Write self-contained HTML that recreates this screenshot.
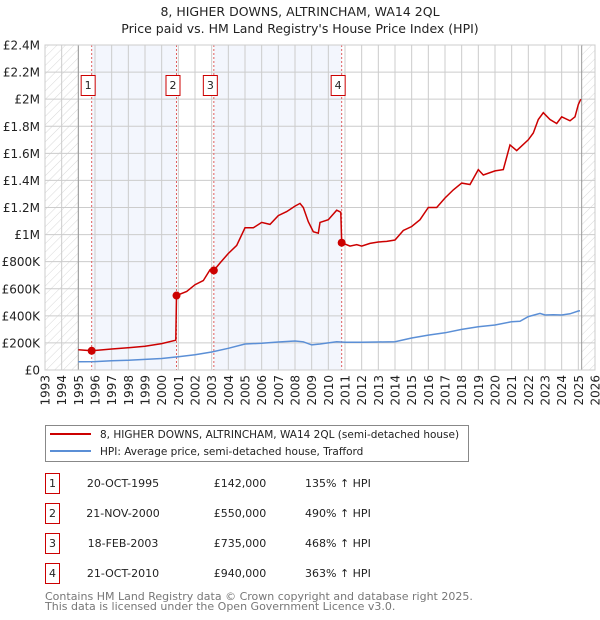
<!DOCTYPE html>
<html><head><meta charset="utf-8"><style>
body{margin:0;background:#fff;font-family:"DejaVu Sans","Liberation Sans",sans-serif;}
#wrap{position:relative;width:600px;height:620px;overflow:hidden}
svg text{font-family:"DejaVu Sans","Liberation Sans",sans-serif}
</style></head><body><div id="wrap">
<svg id="chart" width="600" height="620"></svg>
</div>
<script>
const yTicks=[0,200000,400000,600000,800000,1000000,1200000,1400000,1600000,1800000,2000000,2200000,2400000];
const yTickLabels=["£0","£200K","£400K","£600K","£800K","£1M","£1.2M","£1.4M","£1.6M","£1.8M","£2M","£2.2M","£2.4M"];
const xYears=[1993,1994,1995,1996,1997,1998,1999,2000,2001,2002,2003,2004,2005,2006,2007,2008,2009,2010,2011,2012,2013,2014,2015,2016,2017,2018,2019,2020,2021,2022,2023,2024,2025,2026];
const saleDates=[1995.8,2000.89,2003.13,2010.8];
const salePrices=[142000,550000,735000,940000];
const saleLabels=["1","2","3","4"];
const hpiX=[1995,1996,1997,1998,1999,2000,2001,2002,2003,2004,2005,2006,2007,2008,2008.5,2009,2009.5,2010,2010.5,2011,2012,2013,2014,2015,2016,2017,2018,2019,2020,2021,2021.5,2022,2022.7,2023,2023.5,2024,2024.5,2025,2025.1];
const hpiY=[61000,62000,68000,72000,78000,85000,98000,112000,133000,160000,192000,198000,207000,214000,208000,185000,192000,200000,209000,205000,205000,207000,209000,236000,258000,275000,300000,320000,332000,357000,360000,394000,418000,406000,408000,406000,415000,436000,438000];
const redX=[1995,1995.8,1996.5,1997,1998,1999,2000,2000.85,2000.89,2001.5,2002,2002.5,2002.9,2003.13,2003.5,2004,2004.5,2005,2005.5,2006,2006.5,2007,2007.5,2008,2008.3,2008.5,2008.8,2009.1,2009.4,2009.5,2010,2010.5,2010.75,2010.8,2011.3,2011.7,2012,2012.5,2013,2013.5,2014,2014.5,2015,2015.5,2016,2016.5,2017,2017.5,2018,2018.5,2019,2019.3,2020,2020.5,2020.9,2021.3,2022,2022.3,2022.6,2022.9,2023.3,2023.7,2024,2024.5,2024.8,2025,2025.15];
const redY=[150000,142000,150000,155000,165000,175000,195000,220000,550000,580000,630000,660000,740000,735000,790000,860000,920000,1050000,1050000,1090000,1075000,1140000,1170000,1210000,1230000,1200000,1095000,1021000,1010000,1090000,1110000,1180000,1165000,940000,915000,925000,915000,935000,945000,950000,960000,1030000,1060000,1110000,1200000,1200000,1270000,1330000,1380000,1370000,1480000,1440000,1470000,1480000,1662000,1620000,1700000,1750000,1850000,1900000,1850000,1820000,1870000,1840000,1870000,1960000,2000000];

const X0=45,X1=595,Y0=370,Y1=45;
const xs=y=>X0+(y-1993)/(2026-1993)*(X1-X0);
const ys=v=>Y0-v/2400000*(Y0-Y1);
const svg=document.getElementById('chart');
const NS='http://www.w3.org/2000/svg';
function mk(tag,attrs,parent){const e=document.createElementNS(NS,tag);for(const k in attrs)e.setAttribute(k,attrs[k]);(parent||svg).appendChild(e);return e;}
const defs=mk('defs',{});
const pat=mk('pattern',{id:'hatch',width:6,height:6,patternUnits:'userSpaceOnUse',patternTransform:'rotate(45)'},defs);
mk('line',{x1:0,y1:0,x2:0,y2:6,stroke:'#d8d8d8','stroke-width':1},pat);
let t=mk('text',{x:300,y:16,'text-anchor':'middle','font-size':12.5,fill:'#222'});t.textContent="8, HIGHER DOWNS, ALTRINCHAM, WA14 2QL";

t=mk('text',{x:300,y:33,'text-anchor':'middle','font-size':12.5,fill:'#222'});t.textContent="Price paid vs. HM Land Registry's House Price Index (HPI)";

let b=mk('rect',{x:xs(saleDates[0]),y:Y1,width:xs(saleDates[1])-xs(saleDates[0]),height:Y0-Y1,fill:'#f3f6fd'});

b=mk('rect',{x:xs(saleDates[2]),y:Y1,width:xs(saleDates[3])-xs(saleDates[2]),height:Y0-Y1,fill:'#f3f6fd'});

b=mk('rect',{x:X0,y:Y1,width:xs(1995)-X0,height:Y0-Y1,fill:'url(#hatch)'});

b=mk('rect',{x:xs(2025.2),y:Y1,width:X1-xs(2025.2),height:Y0-Y1,fill:'url(#hatch)'});

yTicks.forEach((v,i)=>{
 const l=mk('line',{x1:X0,x2:X1,y1:ys(v),y2:ys(v),stroke:'#ccc','stroke-width':1});
 
 const tx=mk('text',{x:X0-5,y:ys(v)+4.5,'text-anchor':'end','font-size':12,fill:'#222'});tx.textContent=yTickLabels[i];
 
});
xYears.forEach(yr=>{
 const l=mk('line',{x1:xs(yr),x2:xs(yr),y1:Y1,y2:Y0,stroke:'#ccc','stroke-width':1});
 
 const tx=mk('text',{x:0,y:0,'text-anchor':'end','font-size':12,fill:'#222',transform:`translate(${xs(yr)+4.5},${Y0+5}) rotate(-90)`});tx.textContent=yr;
 
});
[1995,2025.2].forEach(yr=>{const l=mk('line',{x1:xs(yr),x2:xs(yr),y1:Y1,y2:Y0,stroke:'#999','stroke-width':1});
 });
saleDates.forEach((d,i)=>{
 const l=mk('line',{x1:xs(d),x2:xs(d),y1:Y1,y2:Y0,stroke:'#e06060','stroke-width':1,'stroke-dasharray':'2,2'});
 
 const g=mk('g',{});
 mk('rect',{x:xs(d)-10.5,y:75.5,width:14,height:20,fill:'#fff',stroke:'#c00','stroke-width':1},g);
 const tx=mk('text',{x:xs(d)-3.5,y:89,'text-anchor':'middle','font-size':11,fill:'#222'},g);tx.textContent=saleLabels[i];
});
function path(xa,ya){return xa.map((x,i)=>(i?'L':'M')+xs(x).toFixed(1)+','+ys(ya[i]).toFixed(1)).join('');}
let p=mk('path',{d:path(hpiX,hpiY),fill:'none',stroke:'#5b8fd6','stroke-width':1.5});

p=mk('path',{d:path(redX,redY),fill:'none',stroke:'#cc0000','stroke-width':1.5});

saleDates.forEach((d,i)=>{const c=mk('circle',{cx:xs(d),cy:ys(salePrices[i]),r:4,fill:'#cc0000'});
 });
let a=mk('rect',{x:X0,y:Y1,width:X1-X0,height:Y0-Y1,fill:'none',stroke:'#ccc'});

const lg=mk('g',{});
mk('rect',{x:45.5,y:425.5,width:423,height:36,fill:'#fff',stroke:'#888'},lg);
let le=mk('g',{},lg);
mk('line',{x1:50,x2:91,y1:434,y2:434,stroke:'#cc0000','stroke-width':2},le);
t=mk('text',{x:100,y:438,'font-size':10.5,fill:'#222'},le);t.textContent="8, HIGHER DOWNS, ALTRINCHAM, WA14 2QL (semi-detached house)";
le=mk('g',{},lg);
mk('line',{x1:50,x2:91,y1:451,y2:451,stroke:'#5b8fd6','stroke-width':2},le);
t=mk('text',{x:100,y:455,'font-size':10.5,fill:'#222'},le);t.textContent="HPI: Average price, semi-detached house, Trafford";
const tDates=["20-OCT-1995","21-NOV-2000","18-FEB-2003","21-OCT-2010"];
const tPrices=["£142,000","£550,000","£735,000","£940,000"];
const tHpi=["135% ↑ HPI","490% ↑ HPI","468% ↑ HPI","363% ↑ HPI"];
tDates.forEach((d,i)=>{
 const cy=483+i*30;
 const g=mk('g',{});
 mk('rect',{x:45.5,y:cy-9.5,width:14,height:20,fill:'#fff',stroke:'#c00'},g);
 let x=mk('text',{x:52.5,y:cy+4,'text-anchor':'middle','font-size':11,fill:'#222'},g);x.textContent=i+1;
 x=mk('text',{x:123,y:cy+4,'text-anchor':'middle','font-size':11,fill:'#222'},g);x.textContent=d;
 x=mk('text',{x:240,y:cy+4,'text-anchor':'middle','font-size':11,fill:'#222'},g);x.textContent=tPrices[i];
 x=mk('text',{x:305,y:cy+4,'font-size':11,fill:'#222'},g);x.textContent=tHpi[i];
});
t=mk('text',{x:45,y:600,'font-size':11,fill:'#777'});t.textContent="Contains HM Land Registry data © Crown copyright and database right 2025.";

t=mk('text',{x:45,y:610,'font-size':11,fill:'#777'});t.textContent="This data is licensed under the Open Government Licence v3.0.";

</script></body></html>
